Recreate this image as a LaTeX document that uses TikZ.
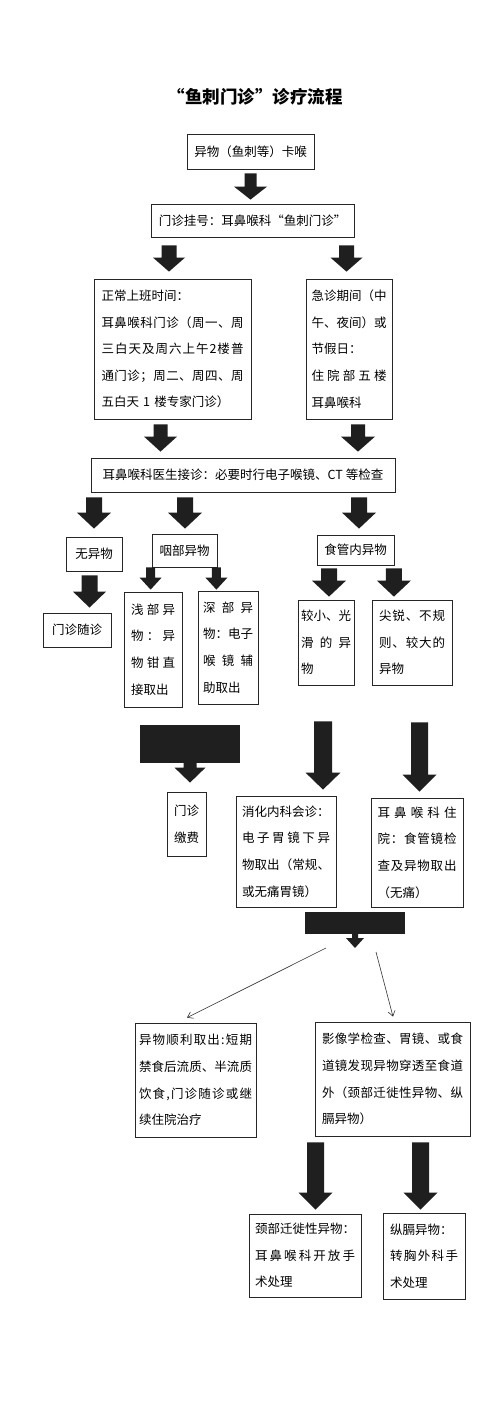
\documentclass[tikz,border=0pt]{standalone}
\usepackage{fontspec}
\setmainfont{Noto Sans CJK SC}
\usetikzlibrary{calc,arrows.meta}

\newcommand\sline[1]{\leavevmode\hbox to \linewidth{\slineA#1\relax}}
\def\slineA#1{\ifx#1\relax\else #1\expandafter\slineB\fi}
\def\slineB#1{\ifx#1\relax\else\hfil #1\expandafter\slineB\fi}

\newcommand\blockarrow[5]{%
  \fill[arrowfill] let \p1=#1, \p2=#2 in
    (\x1-#3pt,\y1) -- (\x1+#3pt,\y1) -- (\x1+#3pt,\y2+#5pt) -- (\x1+#4pt,\y2+#5pt)
    -- (\x1,\y2) -- (\x1-#4pt,\y2+#5pt) -- (\x1-#3pt,\y2+#5pt) -- cycle;}

\tikzset{
  box/.style={draw=black!85, line width=0.8pt, inner sep=0pt, align=left,
    font=\fontsize{12.5}{26.6}\selectfont},
  titlefont/.style={font=\fontsize{17.5}{20}\selectfont\bfseries},
  arrowfill/.style={fill=black!88},
  blockfill/.style={fill=black!88, inner sep=0pt},
  thinarrow/.style={draw=black!80, line width=0.6pt, -{Straight Barb[length=5pt,width=7pt]}}
}

\begin{document}
\begin{tikzpicture}[x=1pt,y=-1pt]
\useasboundingbox (0,0) rectangle (500,1414);
\fill[white] (0,0) rectangle (500,1414);

\node[titlefont] (title) at (255,97) {“鱼刺门诊”诊疗流程};

\node[box, minimum width=127pt, minimum height=35pt] (b1) at (250.5,151.5) {异物（鱼刺等）卡喉};
\node[box, minimum width=203pt, minimum height=33pt] (b2) at (252.5,220.5) {门诊挂号：耳鼻喉科“鱼刺门诊”};

\node[box, minimum width=157pt, minimum height=140pt, text width=142pt] (b3) at (172.5,349) {
正常上班时间：\\
\sline{耳鼻喉科门诊（周一、周}\\
\sline{三白天及周六上午2楼普}\\
\sline{通门诊；周二、周四、周}\\
五白天 1 楼专家门诊）};

\node[box, minimum width=86pt, minimum height=140pt, text width=75pt] (b4) at (349,349) {
\sline{急诊期间（中}\\
\sline{午、夜间）或}\\
节假日：\\
\sline{住院部五楼}\\
耳鼻喉科};

\node[box, minimum width=304pt, minimum height=34pt] (b5) at (243,475) {耳鼻喉科医生接诊：必要时行电子喉镜、CT 等检查};

\node[box, minimum width=56pt, minimum height=34pt] (wuyi) at (94,554) {无异物};
\node[box, minimum width=65pt, minimum height=33pt] (yanbu) at (184.5,550.5) {咽部异物};
\node[box, minimum width=77pt, minimum height=30pt] (shiguan) at (355.5,550) {食管内异物};

\node[box, minimum width=68pt, minimum height=34pt] (suizhen) at (77,630) {门诊随诊};

\node[box, minimum width=58pt, minimum height=115pt, text width=44pt] (qianbu) at (153,649.5) {
\sline{浅部异}\\
\sline{物：异}\\
\sline{物钳直}\\
接取出};

\node[box, minimum width=60pt, minimum height=113pt, text width=50pt] (shenbu) at (228,647.5) {
\sline{深部异}\\
\sline{物：电子}\\
\sline{喉镜辅}\\
助取出};

\node[box, minimum width=56pt, minimum height=85pt, text width=50pt] (jiaoxiao) at (326,642.5) {
\sline{较小、光}\\
\sline{滑的异}\\
物};

\node[box, minimum width=80pt, minimum height=85pt, text width=66pt] (jianrui) at (412,642.5) {
\sline{尖锐、不规}\\
\sline{则、较大的}\\
异物};

\node[blockfill, minimum width=100pt, minimum height=38pt] (blockA) at (190,744) {};

\node[box, minimum width=39pt, minimum height=64pt, text width=25pt] (fee) at (186.5,824) {
门诊\\
缴费};

\node[box, minimum width=100pt, minimum height=111pt, text width=88pt] (xiaohua) at (286,851.5) {
消化内科会诊：\\
\sline{电子胃镜下异}\\
\sline{物取出（常规、}\\
或无痛胃镜）};

\node[box, minimum width=92pt, minimum height=109pt, text width=79pt] (zhuyuan) at (417,852.5) {
\sline{耳鼻喉科住}\\
\sline{院：食管镜检}\\
\sline{查及异物取出}\\
（无痛）};

\node[blockfill, minimum width=100pt, minimum height=22pt] (blockB) at (355,923) {};
\coordinate (split) at (355,948);
\coordinate (l1) at (326,948);
\coordinate (l2) at (376,952);

\node[box, minimum width=121pt, minimum height=114pt, text width=113pt] (ok) at (195.5,1080) {
\sline{异物顺利取出:短期}\\
\sline{禁食后流质、半流质}\\
\sline{饮食,门诊随诊或继}\\
续住院治疗};

\node[box, minimum width=155pt, minimum height=114pt, text width=141pt] (yingxiang) at (392.5,1079) {
\sline{影像学检查、胃镜、或食}\\
\sline{道镜发现异物穿透至食道}\\
\sline{外（颈部迁徙性异物、纵}\\
膈异物）};

\node[box, minimum width=112pt, minimum height=83pt, text width=100pt] (jingbu) at (305,1255.5) {
颈部迁徙性异物：\\
\sline{耳鼻喉科开放手}\\
术处理};

\node[box, minimum width=82pt, minimum height=86pt, text width=68pt] (zongge) at (424,1256) {
纵膈异物：\\
\sline{转胸外科手}\\
术处理};

% block arrows
\blockarrow{($(b1.south)+(0,4)$)}{($(b1.south |- b2.north)+(0,-4)$)}{6}{16.5}{13}
\blockarrow{($(b2.south -| b3.north)+(-3.5,8)$)}{($(b3.north)+(-3.5,-7)$)}{7.5}{16}{14}
\blockarrow{($(b2.south -| b4.north)+(-2.5,8)$)}{($(b4.north)+(-2.5,-7)$)}{7.5}{16}{14}
\blockarrow{($(b3.south)+(-12,5)$)}{($(b3.south |- b5.north)+(-12,-6)$)}{7}{16.5}{15}
\blockarrow{($(b4.south)+(9,5)$)}{($(b4.south |- b5.north)+(9,-6)$)}{7}{17}{15}
\blockarrow{($(b5.south -| wuyi.north)+(0,5)$)}{($(wuyi.north)+(0,-8)$)}{8}{17}{16}
\blockarrow{($(b5.south -| yanbu.north)+(0.5,5)$)}{($(yanbu.north)+(0.5,-5)$)}{8}{17}{16}
\blockarrow{($(b5.south -| shiguan.north)+(3.5,5)$)}{($(shiguan.north)+(3.5,-6)$)}{8}{17}{16}
\blockarrow{($(wuyi.south)+(-4.5,4)$)}{($(wuyi.south |- suizhen.north)+(-4.5,-5)$)}{8}{16.5}{16}
\blockarrow{($(yanbu.south west)+(-1,0)$)}{($(yanbu.south west |- qianbu.north)+(-1,-2)$)}{4.5}{11}{12}
\blockarrow{($(yanbu.south east)+(-1,0)$)}{($(yanbu.south east |- shenbu.north)+(-1,-1)$)}{4.5}{11}{12}
\blockarrow{($(shiguan.south -| jiaoxiao.north)+(3,3)$)}{($(jiaoxiao.north)+(3,-3)$)}{8}{17}{16}
\blockarrow{($(shiguan.south east)+(-0.5,3)$)}{($(shiguan.south east |- jianrui.north)+(-0.5,-3)$)}{8}{17}{16}
\blockarrow{(blockA.south)}{($(blockA.south |- fee.north)+(0,-9)$)}{6.5}{15.5}{15}
\blockarrow{($(jiaoxiao.south)+(-3,36)$)}{($(jiaoxiao.south |- xiaohua.north)+(-3,-6)$)}{9}{17.5}{17}
\blockarrow{($(jianrui.south)+(7.5,37)$)}{($(jianrui.south |- zhuyuan.north)+(7.5,-6)$)}{8.5}{17}{17}
\blockarrow{(blockB.south)}{(split)}{3}{9}{10}
\blockarrow{($(yingxiang.south)+(-77,6)$)}{($(yingxiang.south |- jingbu.north)+(-77,-4)$)}{8.5}{17}{17}
\blockarrow{($(yingxiang.south)+(28,6)$)}{($(yingxiang.south |- zongge.north)+(28,-3)$)}{8.5}{17}{17}

% thin arrows
\draw[thinarrow] (l1) -- ($(ok.north)+(-8.5,-5)$);
\draw[thinarrow] (l2) -- ($(yingxiang.north)+(0.5,-5)$);
\end{tikzpicture}
\end{document}
